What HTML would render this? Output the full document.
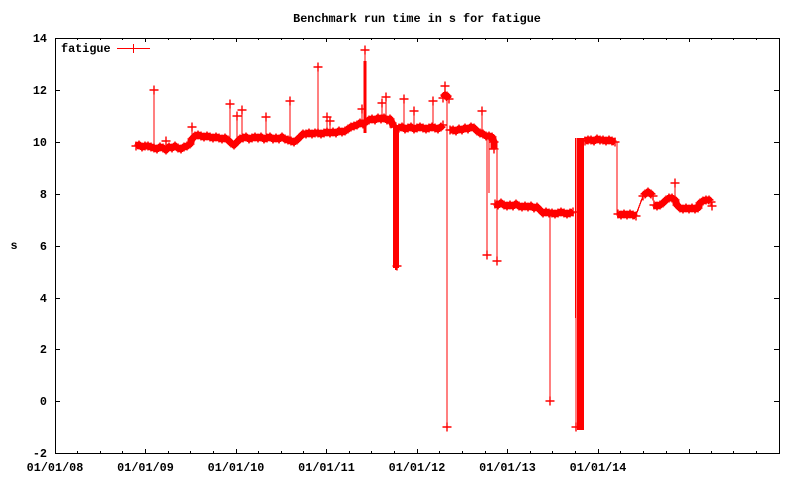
<!DOCTYPE html>
<html><head><meta charset="utf-8"><style>
html,body{margin:0;padding:0;background:#fff;}
svg{display:block;}
text{font-family:"Liberation Mono",monospace;font-weight:bold;font-size:11.8px;fill:#000;}
</style></head><body>
<svg width="800" height="480" viewBox="0 0 800 480" xmlns="http://www.w3.org/2000/svg">
<defs>
<marker id="c" markerUnits="userSpaceOnUse" markerWidth="10" markerHeight="10" refX="4.5" refY="4.5" overflow="visible">
<path d="M0 4.5H9M4.5 0V9" stroke="#f00" stroke-width="1.4" fill="none"/>
</marker>
</defs>
<rect width="800" height="480" fill="#fff"/>
<text x="417" y="22" text-anchor="middle">Benchmark run time in s for fatigue</text>
<text x="14" y="249" text-anchor="middle">s</text>
<g text-anchor="end">
<text x="47" y="42">14</text>
<text x="47" y="94">12</text>
<text x="47" y="146">10</text>
<text x="47" y="198">8</text>
<text x="47" y="250">6</text>
<text x="47" y="302">4</text>
<text x="47" y="353">2</text>
<text x="47" y="405">0</text>
<text x="47" y="457">-2</text>
</g>
<g text-anchor="middle">
<text x="55" y="471">01/01/08</text>
<text x="145.5" y="471">01/01/09</text>
<text x="236" y="471">01/01/10</text>
<text x="326.5" y="471">01/01/11</text>
<text x="417" y="471">01/01/12</text>
<text x="507.5" y="471">01/01/13</text>
<text x="598" y="471">01/01/14</text>
</g>
<g stroke="#000" stroke-width="1" fill="none" shape-rendering="crispEdges">
<path d="M55.5 38.5H779.5V453.5H55.5Z"/>
<path d="M55 90.5h5M55 142.5h5M55 194.5h5M55 246.5h5M55 298.5h5M55 349.5h5M55 401.5h5
M779 90.5h-5M779 142.5h-5M779 194.5h-5M779 246.5h-5M779 298.5h-5M779 349.5h-5M779 401.5h-5"/>
<path d="M145.5 453v-4M236.5 453v-4M326.5 453v-4M417.5 453v-4M507.5 453v-4M598.5 453v-4M689.5 453v-4
M145.5 38v4M236.5 38v4M326.5 38v4M417.5 38v4M507.5 38v4M598.5 38v4M689.5 38v4"/>
<path d="M77.5 453v-2M100.5 453v-2M122.5 453v-2M168.5 453v-2M190.5 453v-2M213.5 453v-2M258.5 453v-2M281.5 453v-2M303.5 453v-2M349.5 453v-2M371.5 453v-2M394.5 453v-2M439.5 453v-2M462.5 453v-2M485.5 453v-2M530.5 453v-2M552.5 453v-2M575.5 453v-2M620.5 453v-2M643.5 453v-2M666.5 453v-2M711.5 453v-2M733.5 453v-2M756.5 453v-2
M77.5 38v2M100.5 38v2M122.5 38v2M168.5 38v2M190.5 38v2M213.5 38v2M258.5 38v2M281.5 38v2M303.5 38v2M349.5 38v2M371.5 38v2M394.5 38v2M439.5 38v2M462.5 38v2M485.5 38v2M530.5 38v2M552.5 38v2M575.5 38v2M620.5 38v2M643.5 38v2M666.5 38v2M711.5 38v2M733.5 38v2M756.5 38v2"/>
</g>
<text x="61" y="52">fatigue</text>
<path d="M117 48.5H150M133.5 44V53" stroke="#f00" stroke-width="1.3" shape-rendering="crispEdges"/>
<g fill="none" stroke="#f00" stroke-linejoin="round" shape-rendering="crispEdges">
<g stroke-width="1.3" marker-end="url(#c)">
<path d="M154 147V90"/>
<path d="M166 148V141"/>
<path d="M192 139V127"/>
<path d="M230 141V104"/>
<path d="M237 142V116"/>
<path d="M242 139V110"/>
<path d="M266 138V117"/>
<path d="M290 140V101"/>
<path d="M318 133V67"/>
<path d="M327 132V117"/>
<path d="M330 132V121"/>
<path d="M362 124V109"/>
<path d="M365 122V50"/>
<path d="M382 119V103"/>
<path d="M386 120V97"/>
<path d="M404 127V99"/>
<path d="M414 128V111"/>
<path d="M433 127V101"/>
<path d="M445 97V86"/>
<path d="M447 100V427"/>
<path d="M482 133V111"/>
<path d="M487 136V255"/>
<path d="M497 150V261"/>
<path d="M550 213V401"/>
<path d="M576 140V427"/>
<path d="M675 198V183"/>
<path d="M712 203V206"/>
</g>
<path d="M365 61V133" stroke-width="3"/>
<path d="M489 136V193" stroke-width="1.3"/>
<path d="M617 142V215" stroke-width="1.3"/>
<path d="M394 125V268M396 125V270M398 125V268" stroke-width="1.8"/>
<path d="M395 268h0M397 266h0" marker-end="url(#c)"/>
<rect x="577" y="138" width="7" height="292" fill="#f00" stroke="none"/>
<rect x="575" y="138" width="1.5" height="180" fill="#f00" stroke="none"/>
<g stroke-width="7" marker-start="url(#c)" marker-mid="url(#c)" marker-end="url(#c)">
<polyline points="136,146 139,145 142,147 145,146 148,146 151,147 154,148 157,149 160,147 163,148 166,150 169,147 172,148 175,146 178,148 181,149 184,147 187,146 190,144 192,139 195,136 198,135 201,136 204,137 207,136 210,137 213,138 216,137 219,138 222,139 225,138 228,140 231,143 234,145 237,142 240,139 243,138 246,137 249,139 252,138 255,137 258,138 261,137 264,139 267,138 270,137 273,139 276,138 279,139 282,137 285,139 288,140 291,141 294,142 297,140 300,137 303,134 306,134 309,133 312,134 315,133 318,133 321,134 324,133 327,132 330,133 333,132 336,133 339,131 342,132 345,131 348,129 351,127 354,126 357,125 360,123 363,124 366,122 369,120 372,119 375,120 378,118 381,119 384,118 387,120 390,119 392,123 394,127"/>
<polyline points="399,128 402,127 405,129 408,128 411,127 414,129 417,128 420,127 423,128 426,129 429,128 432,127 435,128 438,129 441,127 443,125"/>
<polyline points="443,98 445,95 447,96 449,99"/>
<polyline points="450,130 453,130 456,131 459,129 462,130 465,128 468,129 471,127 474,128 477,131 480,133 483,134 486,136 489,136 492,137 494,142 494,149"/>
<polyline points="495,204 498,205 501,203 504,205 507,206 510,205 513,206 516,204 519,206 522,207 525,206 528,207 531,206 534,208 537,207 540,210 543,213 546,212 549,213 552,213 555,214 558,213 561,212 564,213 567,214 570,213 573,212"/>
<polyline points="585,141 588,140 591,140 594,141 597,139 600,140 603,140 606,141 609,140 612,141 615,142"/>
<polyline points="618,214 621,215 624,214 627,215 630,214 633,215 636,216"/>
<polyline points="643,196 645,194 648,192 651,194 653,196"/>
<polyline points="654,205 657,206 660,205 663,203 666,200 669,198 672,198 675,200 677,205 680,208 683,209 686,208 689,209 692,208 695,209 698,208 700,203 703,201 706,200 709,200 711,202"/>
</g>
<path d="M636 215L643 196" stroke-width="1.3"/>
</g>
</svg>
</body></html>
